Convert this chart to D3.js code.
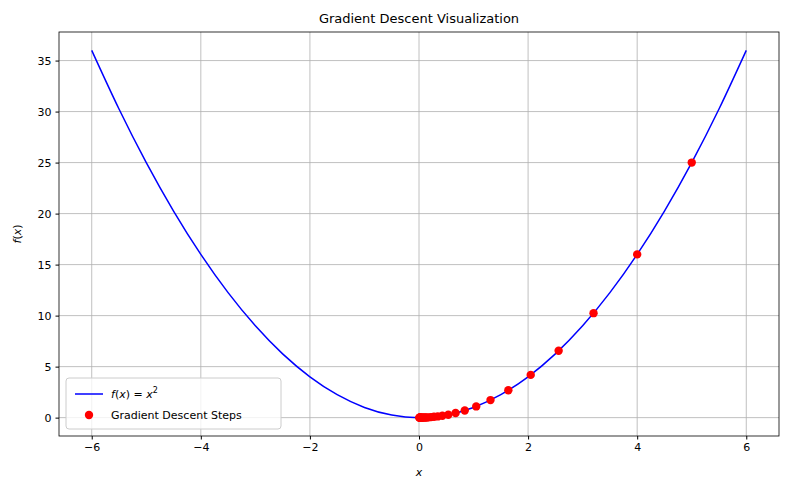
<!DOCTYPE html>
<html><head><meta charset="utf-8">
<script src="https://cdn.jsdelivr.net/npm/d3@7"></script>
<style>body{margin:0;background:#fff;font-family:"DejaVu Sans",sans-serif}</style>
</head><body><svg id="c" width="790" height="490"></svg>
<script>
const curveX = [-6,-5.5,-5,-4.5,-4,-3.5,-3,-2.5,-2,-1.5,-1,-0.5,0,0.5,1,1.5,2,2.5,3,3.5,4,4.5,5,5.5,6];
const curveY = [36,30.25,25,20.25,16,12.25,9,6.25,4,2.25,1,0.25,0,0.25,1,2.25,4,6.25,9,12.25,16,20.25,25,30.25,36];
const stepX = [5,4,3.2,2.56,2.048,1.638,1.311,1.049,0.839,0.671,0.537,0.429,0.344,0.275,0.22,0.176,0.141,0.113,0.09,0.072,0.058,0.046,0.037,0.03,0.024,0.019,0.015,0.012,0.01,0.008];
const stepY = [25,16,10.24,6.55,4.19,2.68,1.72,1.1,0.70,0.45,0.29,0.18,0.12,0.08,0.05,0.03,0.02,0.013,0.008,0.005,0.003,0.002,0.001,0.001,0.001,0,0,0,0,0];
const xTicks = [-6,-4,-2,0,2,4,6];
const yTicks = [0,5,10,15,20,25,30,35];

const svg = d3.select("#c");
const L=59,R=779,T=32,B=436;
const x = d3.scaleLinear().domain([-6.6,6.6]).range([L,R]);
const y = d3.scaleLinear().domain([-1.8,37.8]).range([B,T]);
const g = svg.append("g");
xTicks.forEach(t=>g.append("line").attr("x1",x(t)).attr("x2",x(t)).attr("y1",T).attr("y2",B).attr("stroke","#b0b0b0").attr("stroke-width",0.8));
yTicks.forEach(t=>g.append("line").attr("y1",y(t)).attr("y2",y(t)).attr("x1",L).attr("x2",R).attr("stroke","#b0b0b0").attr("stroke-width",0.8));
const ax = svg.append("g").attr("transform",`translate(0,${B})`).call(d3.axisBottom(x).tickValues(xTicks).tickSize(3.5).tickPadding(4).tickFormat(d=>d<0?"\u2212"+(-d):d));
const ay = svg.append("g").attr("transform",`translate(${L},0)`).call(d3.axisLeft(y).tickValues(yTicks).tickSize(3.5).tickPadding(4));
[ax,ay].forEach(a=>{a.select(".domain").remove();a.selectAll("text").attr("font-size",11).attr("font-family","DejaVu Sans").attr("fill","#000");a.selectAll("line").attr("stroke","#000");});
svg.append("path").datum(curveX.map((v,i)=>[v,curveY[i]])).attr("fill","none").attr("stroke","blue").attr("stroke-width",1.5)
  .attr("d",d3.line().x(d=>x(d[0])).y(d=>y(d[1])).curve(d3.curveNatural));
svg.selectAll("circle.s").data(stepX.map((v,i)=>[v,stepY[i]])).join("circle").attr("cx",d=>x(d[0])).attr("cy",d=>y(d[1])).attr("r",4.2).attr("fill","red");
svg.append("rect").attr("x",L).attr("y",T).attr("width",R-L).attr("height",B-T).attr("fill","none").attr("stroke","#000").attr("stroke-width",0.8);
svg.append("text").attr("x",(L+R)/2).attr("y",T-9).attr("text-anchor","middle").attr("font-size",13).text("Gradient Descent Visualization");
svg.append("text").attr("x",(L+R)/2).attr("y",476).attr("text-anchor","middle").attr("font-size",11).attr("font-style","italic").text("x");
svg.append("text").attr("transform",`translate(21,${(T+B)/2}) rotate(-90)`).attr("text-anchor","middle").attr("font-size",11).html('<tspan font-style="italic">f</tspan>(<tspan font-style="italic">x</tspan>)');
const lg = svg.append("g");
lg.append("rect").attr("x",66).attr("y",378).attr("width",215).attr("height",51).attr("rx",3).attr("fill","#fff").attr("fill-opacity",0.8).attr("stroke","#ccc");
lg.append("line").attr("x1",75).attr("x2",103).attr("y1",394).attr("y2",394).attr("stroke","blue").attr("stroke-width",1.5);
lg.append("text").attr("x",111).attr("y",398).attr("font-size",11).html('<tspan font-style="italic">f</tspan>(<tspan font-style="italic">x</tspan>) = <tspan font-style="italic">x</tspan><tspan dy="-5" font-size="8">2</tspan>');
lg.append("circle").attr("cx",89).attr("cy",415).attr("r",4.2).attr("fill","red");
lg.append("text").attr("x",111).attr("y",419).attr("font-size",11).text("Gradient Descent Steps");
</script></body></html>
